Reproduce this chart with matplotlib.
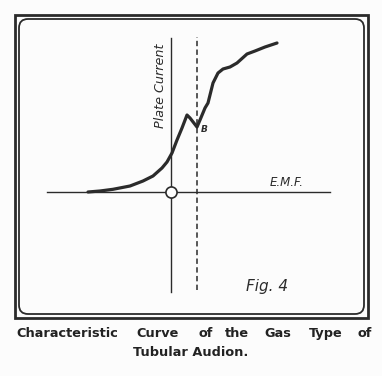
import matplotlib.pyplot as plt
from matplotlib.patches import FancyBboxPatch, Rectangle

# characteristic curve (EMF vs plate current, arbitrary units)
emf = [-8.3, -7.1, -5.8, -4.1, -2.8, -1.8, -0.9, -0.4, 0.1, 0.6, 1.1, 1.6, 1.9, 2.6,
       2.9, 3.4, 3.7, 4.2, 4.7, 5.2, 5.9, 6.6, 7.6, 8.4, 9.4, 10.6]
plate_current = [0.0, 0.1, 0.27, 0.6, 1.1, 1.6, 2.4, 3.0, 3.9, 5.2, 6.4, 7.7, 7.4, 6.5,
                 7.2, 8.4, 8.9, 10.9, 11.9, 12.3, 12.5, 12.9, 13.8, 14.1, 14.5, 14.9]

emf_axis = [-12.4, 15.9]
current_axis = [-10.0, 15.4]
b_point = 2.6          # EMF of point B (dashed line)
b_line = [-9.8, 15.5]

caption_words = ["Characteristic", "Curve", "of", "the", "Gas", "Type", "of"]
caption_pos = [67, 158, 206, 237, 278, 326, 365]   # word centres, px
caption_line2 = "Tubular Audion."

ink = "#2b2b2b"
W, H = 382, 376

fig = plt.figure(figsize=(W / 100, H / 100), dpi=100)
fig.patch.set_facecolor("#fcfcfc")

# pixel overlay for the frame and caption
deco = fig.add_axes([0, 0, 1, 1])
deco.set_xlim(0, W)
deco.set_ylim(H, 0)
deco.axis("off")
deco.add_patch(Rectangle((15, 15), 353, 303, fill=False, ec=ink, lw=2.0))
deco.add_patch(FancyBboxPatch((19, 19), 345, 295, boxstyle="round,pad=0,rounding_size=9",
                              fill=False, ec=ink, lw=1.3))
for word, xc in zip(caption_words, caption_pos):
    deco.text(xc, 337, word, ha="center", va="baseline", fontsize=9.3,
              fontweight="bold", color="#222222", family="DejaVu Sans")
deco.text(191, 356, caption_line2, ha="center", va="baseline", fontsize=9.3,
          fontweight="bold", color="#222222", family="DejaVu Sans")

# chart axes, 1 unit = 10 px, origin at the small circle
ax = fig.add_axes([0, 0, 1, 1])
ax.patch.set_alpha(0)
ax.set_xlim(-17.1, 21.1)
ax.set_ylim(-18.4, 19.2)
ax.axis("off")

ax.plot(emf_axis, [0, 0], color=ink, lw=1.0)
ax.plot([0, 0], current_axis, color=ink, lw=1.0)
ax.plot([b_point, b_point], b_line, color=ink, lw=1.1, dashes=(3.5, 2.2))
ax.plot(emf, plate_current, color=ink, lw=2.3, solid_joinstyle="round", solid_capstyle="round")
ax.plot([0], [0], "o", ms=8, mfc="white", mec=ink, mew=1.2, zorder=5)

ax.text(-1.1, 10.6, "Plate Current", rotation=90, ha="center", va="center",
        fontsize=9.2, style="italic", color=ink)
ax.text(3.35, 6.2, "B", ha="center", va="center", fontsize=6.5, style="italic",
        fontweight="bold", color=ink)
ax.text(11.6, 0.9, "E.M.F.", ha="center", va="center", fontsize=8.5, style="italic", color=ink)
ax.text(9.6, -9.5, "Fig. 4", ha="center", va="center", fontsize=11, style="italic", color=ink)

fig.savefig("out.png", dpi=100, facecolor=fig.get_facecolor())
